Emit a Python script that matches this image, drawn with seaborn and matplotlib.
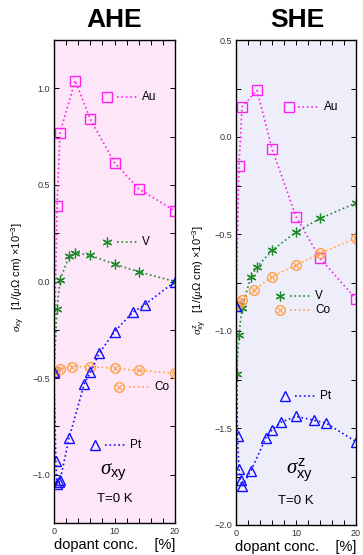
import numpy as np
import pandas as pd
import matplotlib
matplotlib.use('Agg')
import matplotlib.pyplot as plt
import seaborn as sns
from matplotlib.ticker import MultipleLocator

sns.set_theme(style='white')
plt.rcParams['font.family'] = ['Liberation Sans', 'DejaVu Sans']
plt.rcParams['mathtext.fontset'] = 'custom'
plt.rcParams['mathtext.rm'] = 'Liberation Sans'
plt.rcParams['mathtext.it'] = 'Liberation Serif:italic'
plt.rcParams['mathtext.bf'] = 'Liberation Sans:bold'
plt.rcParams['text.color'] = 'black'
plt.rcParams['axes.labelcolor'] = 'black'

# data: dopant concentration [%] and conductivity [1/(uOhm cm) x 1e-3]
# AHE
ahe_au_x = [0, 0.5, 1, 3.5, 6, 10, 14, 20]
ahe_au_y = [-0.47, 0.39, 0.77, 1.04, 0.84, 0.615, 0.48, 0.365]
ahe_v_x = [0, 0.5, 1, 2.5, 3.5, 6, 10, 14, 20]
ahe_v_y = [-0.47, -0.14, 0.01, 0.13, 0.15, 0.135, 0.09, 0.05, 0.0]
ahe_co_x = [0, 1, 3, 6, 10, 14, 20]
ahe_co_y = [-0.47, -0.455, -0.44, -0.44, -0.45, -0.46, -0.475]
ahe_pt_x = [0, 0.3, 0.5, 0.75, 1, 2.5, 5, 6, 7.5, 10, 13, 15, 20]
ahe_pt_y = [-0.47, -0.93, -1.05, -1.04, -1.03, -0.81, -0.53, -0.47, -0.37, -0.26, -0.16, -0.12, 0.0]

# SHE
she_au_x = [0, 0.5, 1, 3.5, 6, 10, 14, 20]
she_au_y = [-0.87, -0.15, 0.155, 0.24, -0.06, -0.41, -0.625, -0.835]
she_v_x = [0, 0.1, 0.5, 1, 2.5, 3.5, 6, 10, 14, 20]
she_v_y = [-0.87, -1.22, -1.02, -0.88, -0.72, -0.67, -0.585, -0.49, -0.42, -0.34]
she_co_x = [0, 0.5, 1, 3, 6, 10, 14, 20]
she_co_y = [-0.87, -0.855, -0.84, -0.79, -0.72, -0.66, -0.60, -0.52]
she_pt_x = [0, 0.25, 0.5, 0.75, 1, 2.5, 5, 6, 7.5, 10, 13, 15, 20]
she_pt_y = [-0.87, -1.54, -1.71, -1.77, -1.80, -1.72, -1.55, -1.51, -1.47, -1.44, -1.46, -1.475, -1.57]

colors = {'Au': '#ff22ee', 'V': '#1f8a2a', 'Co': '#ffa24a', 'Pt': '#1010ff'}
markers = {'Au': 's', 'V': (6, 2, 0), 'Co': 'o', 'Pt': '^'}

fig = plt.figure(figsize=(3.63, 5.55), dpi=100)
ax1 = fig.add_axes([54 / 363, 32 / 555, 121 / 363, 483 / 555])
ax2 = fig.add_axes([236 / 363, 30 / 555, 120 / 363, 485 / 555])
ax1.set_facecolor('#fde6f8')
ax2.set_facecolor('#eeeefb')


def draw(ax, name, xs, ys):
    c = colors[name]
    df = pd.DataFrame({'x': xs, 'y': ys})
    m = markers[name]
    kw = dict(markerfacecolor='none', markeredgecolor=c, markeredgewidth=1.0)
    if name == 'V':
        kw = dict(markerfacecolor=c, markeredgecolor=c, markeredgewidth=0.9)
    ms = {'Au': 7, 'V': 7, 'Co': 7, 'Pt': 7.5}[name]
    sns.lineplot(data=df, x='x', y='y', ax=ax, color=c, linestyle=':', linewidth=1.2,
                 marker=m, markersize=ms, estimator=None, sort=False, **kw)
    if name == 'Co':
        ax.plot(xs, ys, linestyle='none', marker='x', markersize=4, color=c, markeredgewidth=0.8)


def key(ax, name, x0, y0, dx=0.17):
    c = colors[name]
    m = markers[name]
    t = ax.transAxes
    if name == 'V':
        ax.plot([x0], [y0], marker=m, markersize=7, color=c, markeredgewidth=0.9, transform=t, clip_on=False)
    else:
        ax.plot([x0], [y0], marker=m, markersize=7, markerfacecolor='none', markeredgecolor=c,
                markeredgewidth=1.0, transform=t, clip_on=False)
    if name == 'Co':
        ax.plot([x0], [y0], marker='x', markersize=4, color=c, markeredgewidth=0.8, transform=t)
    ax.plot([x0 + 0.08, x0 + 0.08 + dx], [y0, y0], linestyle=':', color=c, linewidth=1.2, transform=t)
    ax.text(x0 + 0.1 + dx + 0.02, y0, name, transform=t, va='center', ha='left', fontsize=8.5, color='black')


for name, xs, ys in [('Au', ahe_au_x, ahe_au_y), ('V', ahe_v_x, ahe_v_y),
                     ('Co', ahe_co_x, ahe_co_y), ('Pt', ahe_pt_x, ahe_pt_y)]:
    draw(ax1, name, xs, ys)
for name, xs, ys in [('Au', she_au_x, she_au_y), ('V', she_v_x, she_v_y),
                     ('Co', she_co_x, she_co_y), ('Pt', she_pt_x, she_pt_y)]:
    draw(ax2, name, xs, ys)

key(ax1, 'Au', 0.44, 0.882)
key(ax1, 'V', 0.44, 0.581)
key(ax1, 'Co', 0.54, 0.281)
key(ax1, 'Pt', 0.34, 0.161)
key(ax2, 'Au', 0.44, 0.862)
key(ax2, 'V', 0.37, 0.472)
key(ax2, 'Co', 0.37, 0.443)
key(ax2, 'Pt', 0.41, 0.265)

ax1.set_ylim(-1.25, 1.25)
ax2.set_ylim(-2.0, 0.5)
for ax in (ax1, ax2):
    ax.set_xlim(0, 20)
    ax.xaxis.set_major_locator(MultipleLocator(10))
    ax.xaxis.set_minor_locator(MultipleLocator(2))
    ax.yaxis.set_major_locator(MultipleLocator(0.5))
    ax.yaxis.set_minor_locator(MultipleLocator(0.25))
    ax.tick_params(which='both', direction='in', top=True, right=True, bottom=True, left=True,
                   length=3.5, width=0.7, labelsize=6.5, labelcolor='#333333', pad=3, color='black')
    for s in ax.spines.values():
        s.set_color('black')
        s.set_linewidth(1.0)
    ax.set_ylabel('')
    ax.set_xlabel('dopant conc.    [%]', fontsize=10.5, labelpad=1)
    ax.text(0.5, 0.05, 'T=0 K', transform=ax.transAxes, ha='center', va='center', fontsize=9.5)

ax1.text(0.49, 0.104, r'$\sigma_{\mathrm{xy}}$', transform=ax1.transAxes, ha='center', va='center', fontsize=15)
ax2.text(0.53, 0.113, r'$\sigma^{\mathrm{z}}_{\mathrm{xy}}$', transform=ax2.transAxes, ha='center', va='center', fontsize=15)

fig.text(114 / 363, 1 - 20 / 555, 'AHE', ha='center', va='center', fontsize=19, fontweight='bold')
fig.text(297 / 363, 1 - 20 / 555, 'SHE', ha='center', va='center', fontsize=19, fontweight='bold')

fig.text(18 / 363, 1 - 277 / 555, r'$\sigma_{\mathrm{xy}}$   [1/($\mu\Omega$ cm) $\times10^{-3}$]',
         rotation=90, ha='center', va='center', fontsize=8)
fig.text(200 / 363, 1 - 280 / 555, r'$\sigma^{\mathrm{z}}_{\mathrm{xy}}$   [1/($\mu\Omega$ cm) $\times10^{-3}$]',
         rotation=90, ha='center', va='center', fontsize=8)

fig.savefig('out.png', dpi=100)
